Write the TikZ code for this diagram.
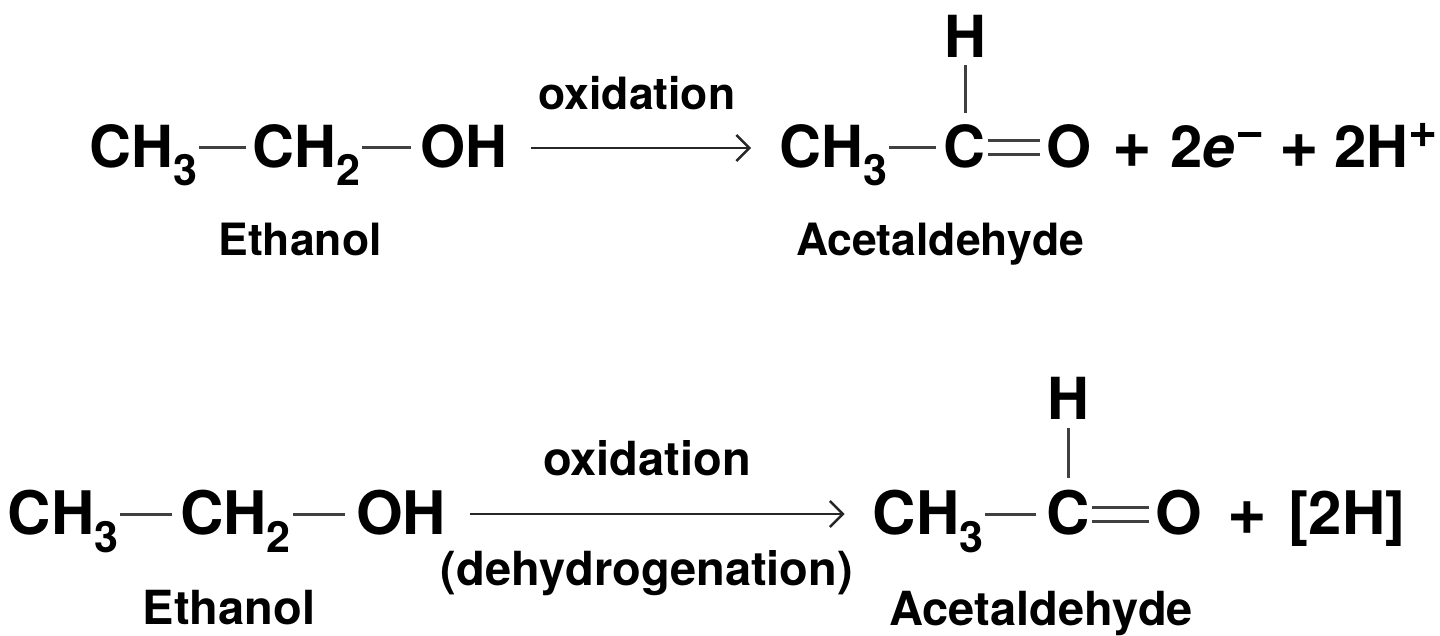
\documentclass[tikz,border=0pt]{standalone}
\usepackage{fontspec}
\setmainfont{TeX Gyre Heros}
\usetikzlibrary{arrows.meta}
\newcommand{\subdig}[1]{\raisebox{-0.3em}{\fontsize{43}{43}\selectfont #1}}
\newcommand{\supsym}[1]{\raisebox{0.36em}{\fontsize{50}{50}\selectfont #1}}
\newcommand{\plusbig}{{\fontsize{68}{60}\selectfont +}}
\definecolor{bondgray}{gray}{0.25}

\begin{document}
\begin{tikzpicture}[
		x=1pt, y=-1pt,
		every node/.style={inner sep=0pt, outer sep=0pt, text=black, font=\bfseries},
		chem/.style={anchor=west, text height=52pt, text depth=12pt, font=\bfseries\fontsize{58}{60}\selectfont},
		chemlow/.style={chem, font=\bfseries\fontsize{60}{60}\selectfont},
		namelab/.style={font=\bfseries\fontsize{44.5}{50}\selectfont},
		namelow/.style={font=\bfseries\fontsize{47}{50}\selectfont},
		bond/.style={draw=bondgray, line width=3pt, shorten <=2pt, shorten >=7pt},
		dblbond/.style={draw=bondgray, line width=3pt, shorten <=3pt, shorten >=6pt},
		react/.style={draw=black!85, line width=2.4pt, -{Straight Barb[length=13pt, width=26pt, line width=2.4pt]}}
	]
  \useasboundingbox (0, 0) rectangle (1440, 636);
  \node (ch3_a) [chem] at (89.5, 148) {CH\subdig{3}};
  \node (ch2_a) [chem] at (252.5, 148) {CH\subdig{2}};
  \node (oh_a) [chem] at (420, 148) {OH};
  \node (ch3_b) [chem] at (779, 148) {CH\subdig{3}};
  \node (c_b) [chem] at (943, 148) {C};
  \node (o_b) [chem] at (1046, 148) {O};
  \node (rest_b) [chem] at (1112, 148) {\plusbig\hspace{19pt}2\textit{e}\supsym{−}\hspace{15pt}\plusbig\hspace{15pt}2H\supsym{+}};
  \node (h_b) [font=\bfseries\fontsize{58}{60}\selectfont] at (965, 36) {H};
  \node (eth_a) [namelab] at (300, 239) {Ethanol};
  \node (ald_b) [namelab] at (940, 244) {Acetaldehyde};
  \node (ox_a) [namelab] at (637, 93) {oxidation};
  \draw [bond] (ch3_a.east) -- (ch2_a.west);
  \draw [bond, shorten >=9pt] (ch2_a.east) -- (oh_a.west);
  \draw [bond] (ch3_b.east) -- (c_b.west);
  \draw [dblbond] ([yshift=7pt]c_b.east) -- ([yshift=7pt]o_b.west);
  \draw [dblbond] ([yshift=-7pt]c_b.east) -- ([yshift=-7pt]o_b.west);
  \draw [bond, shorten <=8pt, shorten >=35pt] (h_b) -- (h_b |- c_b);
  \draw [react, shorten <=24pt, shorten >=28pt] (oh_a.east) -- (ch3_b.west);

  \node (ch3_c) [chemlow] at (7.5, 514) {CH\subdig{3}};
  \node (ch2_c) [chemlow] at (180, 514) {CH\subdig{2}};
  \node (oh_c) [chemlow] at (356, 514) {OH};
  \node (ch3_d) [chemlow] at (872.5, 514) {CH\subdig{3}};
  \node (c_d) [chemlow] at (1046, 514) {C};
  \node (o_d) [chemlow] at (1155, 514) {O};
  \node (rest_d) [chemlow] at (1227, 514) {\plusbig\hspace{22pt}[2H]};
  \node (h_d) [font=\bfseries\fontsize{58}{60}\selectfont] at (1068, 398) {H};
  \node (eth_c) [namelow] at (229, 608) {Ethanol};
  \node (ald_d) [namelow] at (1041, 614) {Acetaldehyde};
  \node (ox_c) [namelow] at (647, 458) {oxidation};
  \node (dehyd_c) [namelow] at (647, 573) {(dehydrogenation)};
  \draw [bond, shorten >=8pt] (ch3_c.east) -- (ch2_c.west);
  \draw [bond, shorten >=11pt] (ch2_c.east) -- (oh_c.west);
  \draw [bond, shorten >=10pt] (ch3_d.east) -- (c_d.west);
  \draw [dblbond] ([yshift=7pt]c_d.east) -- ([yshift=7pt]o_d.west);
  \draw [dblbond] ([yshift=-7pt]c_d.east) -- ([yshift=-7pt]o_d.west);
  \draw [bond, shorten <=9pt, shorten >=36pt] (h_d) -- (h_d |- c_d);
  \draw [react, shorten <=24pt, shorten >=28pt] (oh_c.east) -- (ch3_d.west);
\end{tikzpicture}
\end{document}
